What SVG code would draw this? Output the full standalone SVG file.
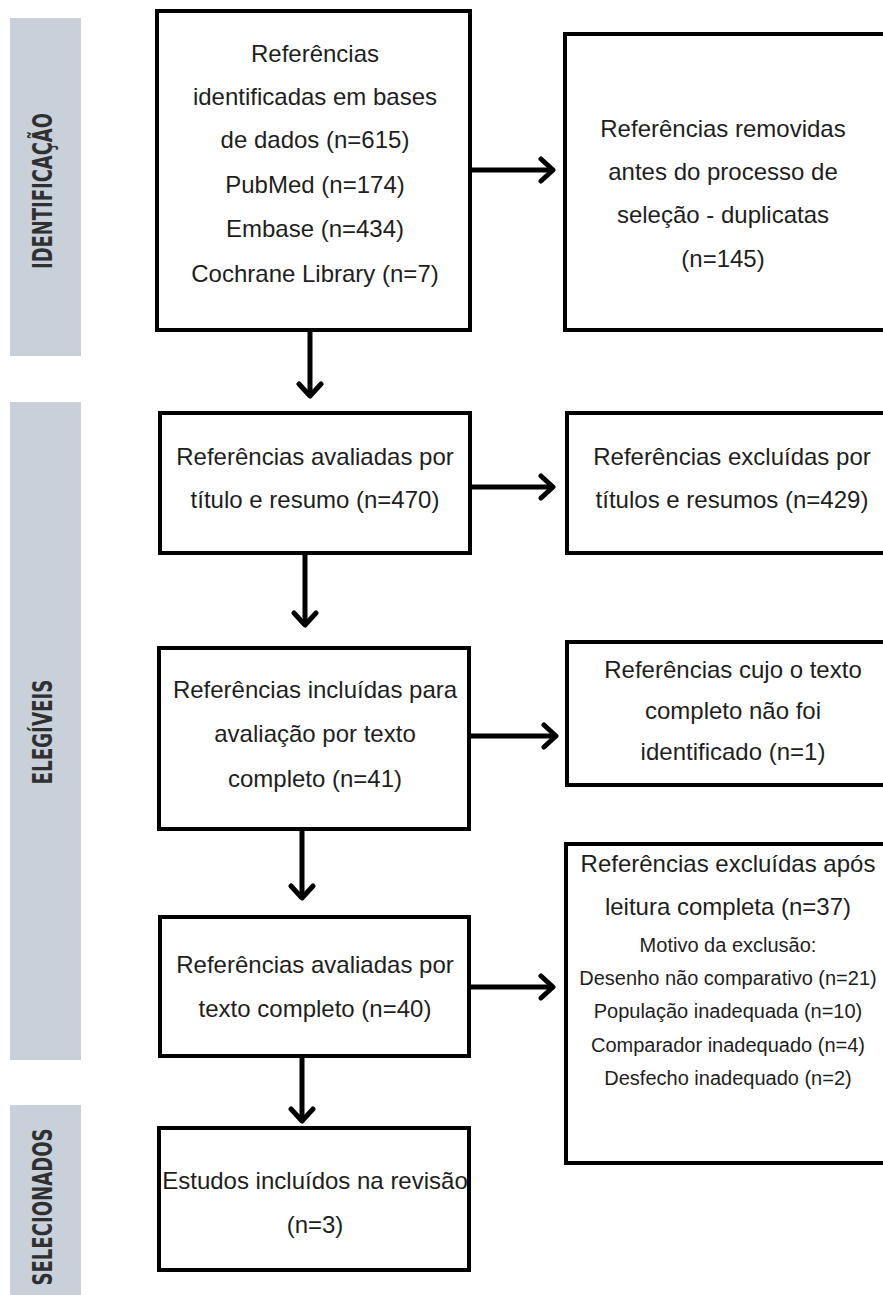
<svg xmlns="http://www.w3.org/2000/svg" width="883" height="1295" viewBox="0 0 883 1295">
<style>
.band{fill:#c8d0d9}
.lbl{font-family:"DejaVu Sans Condensed","DejaVu Sans","Liberation Sans",sans-serif;font-weight:bold;font-size:26px;fill:#303030;text-anchor:middle}
.box{fill:#ffffff;stroke:#000;stroke-width:4}
.t{font-family:"Liberation Sans","DejaVu Sans",sans-serif;font-size:24px;fill:#1e1e1e;text-anchor:middle}
.s{font-size:20px}
.con line{stroke:#000;stroke-width:5}
</style>
<defs>
<marker id="arr" viewBox="0 0 24 28" markerWidth="24" markerHeight="28" refX="19" refY="14" orient="auto" markerUnits="userSpaceOnUse">
<path d="M7,3 L19,14 L7,25" fill="none" stroke="#000" stroke-width="5" stroke-linecap="round" stroke-linejoin="round"/>
</marker>
</defs>
<rect width="883" height="1295" fill="#ffffff"/>
<g id="band-identificacao">
<rect class="band" x="10" y="18" width="71" height="338"/>
<text class="lbl" transform="translate(52,191) rotate(-90)" textLength="156" lengthAdjust="spacingAndGlyphs">IDENTIFICAÇÃO</text>
</g>
<g id="band-elegiveis">
<rect class="band" x="10" y="402" width="71" height="658"/>
<text class="lbl" transform="translate(52,732) rotate(-90)" textLength="105" lengthAdjust="spacingAndGlyphs">ELEGÍVEIS</text>
</g>
<g id="band-selecionados">
<rect class="band" x="10" y="1105" width="71" height="195"/>
<text class="lbl" transform="translate(52,1207) rotate(-90)" textLength="157" lengthAdjust="spacingAndGlyphs">SELECIONADOS</text>
</g>
<g id="n1">
<rect class="box" x="157" y="11" width="313" height="319"/>
<text class="t" x="315" y="62">Referências</text>
<text class="t" x="315" y="105">identificadas em bases</text>
<text class="t" x="315" y="148">de dados (n=615)</text>
<text class="t" x="315" y="193">PubMed (n=174)</text>
<text class="t" x="315" y="237">Embase (n=434)</text>
<text class="t" x="315" y="282">Cochrane Library (n=7)</text>
</g>
<g id="n2">
<rect class="box" x="565" y="34" width="340" height="296"/>
<text class="t" x="723" y="137">Referências removidas</text>
<text class="t" x="723" y="180">antes do processo de</text>
<text class="t" x="723" y="223">seleção - duplicatas</text>
<text class="t" x="723" y="267">(n=145)</text>
</g>
<g id="n3">
<rect class="box" x="160" y="413" width="310" height="140"/>
<text class="t" x="315" y="465">Referências avaliadas por</text>
<text class="t" x="315" y="508">título e resumo (n=470)</text>
</g>
<g id="n4">
<rect class="box" x="567" y="413" width="340" height="140"/>
<text class="t" x="732" y="465">Referências excluídas por</text>
<text class="t" x="732" y="508">títulos e resumos (n=429)</text>
</g>
<g id="n5">
<rect class="box" x="159" y="648" width="310" height="181"/>
<text class="t" x="315" y="698">Referências incluídas para</text>
<text class="t" x="315" y="742">avaliação por texto</text>
<text class="t" x="315" y="787">completo (n=41)</text>
</g>
<g id="n6">
<rect class="box" x="567" y="642" width="340" height="143"/>
<text class="t" x="733" y="678">Referências cujo o texto</text>
<text class="t" x="733" y="719">completo não foi</text>
<text class="t" x="733" y="760">identificado (n=1)</text>
</g>
<g id="n7">
<rect class="box" x="160" y="917" width="309" height="139"/>
<text class="t" x="315" y="973">Referências avaliadas por</text>
<text class="t" x="315" y="1017">texto completo (n=40)</text>
</g>
<g id="n8">
<rect class="box" x="566" y="844" width="340" height="319"/>
<text class="t" x="728" y="872">Referências excluídas após</text>
<text class="t" x="728" y="915">leitura completa (n=37)</text>
<text class="t s" x="728" y="952">Motivo da exclusão:</text>
<text class="t s" x="728" y="985">Desenho não comparativo (n=21)</text>
<text class="t s" x="728" y="1018">População inadequada (n=10)</text>
<text class="t s" x="728" y="1052">Comparador inadequado (n=4)</text>
<text class="t s" x="728" y="1085">Desfecho inadequado (n=2)</text>
</g>
<g id="n9">
<rect class="box" x="159" y="1128" width="310" height="142"/>
<text class="t" x="315" y="1189">Estudos incluídos na revisão</text>
<text class="t" x="315" y="1233">(n=3)</text>
</g>
<g id="connectors" class="con">
<line x1="472" y1="170" x2="553" y2="170" marker-end="url(#arr)"/>
<line x1="310" y1="332" x2="310" y2="396" marker-end="url(#arr)"/>
<line x1="472" y1="487" x2="553" y2="487" marker-end="url(#arr)"/>
<line x1="305" y1="555" x2="305" y2="625" marker-end="url(#arr)"/>
<line x1="471" y1="736" x2="556" y2="736" marker-end="url(#arr)"/>
<line x1="302" y1="831" x2="302" y2="898" marker-end="url(#arr)"/>
<line x1="471" y1="987" x2="553" y2="987" marker-end="url(#arr)"/>
<line x1="302" y1="1058" x2="302" y2="1121" marker-end="url(#arr)"/>
</g>
</svg>
